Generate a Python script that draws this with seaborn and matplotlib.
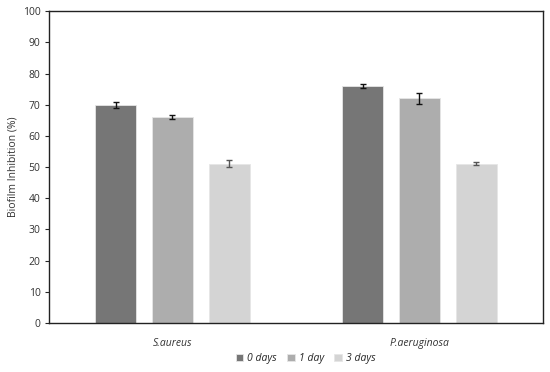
import matplotlib
matplotlib.use("Agg")
import matplotlib.pyplot as plt
import pandas as pd
import seaborn as sns

species = ["S.aureus", "P.aeruginosa"]
days = ["0 days", "1 day", "3 days"]
inhibition = {
    "0 days": [70, 76],
    "1 day": [66, 72],
    "3 days": [51, 51],
}
errors = {
    "0 days": [1.0, 0.5],
    "1 day": [0.7, 1.8],
    "3 days": [1.1, 0.5],
}
colors = ["#767676", "#adadad", "#d4d4d4"]
err_colors = ["#111111", "#111111", "#555555"]

rows = []
for d in days:
    for s, v, e in zip(species, inhibition[d], errors[d]):
        rows.append({"species": s, "day": d, "value": v, "err": e})
data = pd.DataFrame(rows)

sns.set_style("white")
plt.rcParams["font.family"] = ["Open Sans", "DejaVu Sans"]

fig, ax = plt.subplots(figsize=(5.5, 3.72), dpi=100)
fig.subplots_adjust(left=0.089, right=0.987, top=0.970, bottom=0.132)

sns.barplot(data=data, x="species", y="value", hue="day", order=species,
            hue_order=days, palette=colors, width=0.69, gap=0.28,
            saturation=1, errorbar=None, ax=ax, legend=True,
            edgecolor="#e6e6e6", linewidth=0.6)

# error bars, one per bar, placed on the drawn bar centres
for i, d in enumerate(days):
    bars = ax.containers[i]
    xs = [b.get_x() + b.get_width() / 2 for b in bars]
    ax.errorbar(xs, inhibition[d], yerr=errors[d], fmt="none",
                ecolor=err_colors[i], elinewidth=1.0, capsize=2.5, capthick=1.0)

ax.set_xlim(-0.5, 1.5)
ax.set_ylim(0, 100)
ax.set_yticks(range(0, 101, 10))
ax.set_xlabel("")
ax.set_ylabel("Biofilm Inhibition (%)", fontsize=7.5, color="#333333", labelpad=3)
ax.tick_params(axis="y", labelsize=7.5, labelcolor="#333333", length=3,
               width=0.8, direction="out", left=True, pad=3)
ax.tick_params(axis="x", labelsize=7.5, labelcolor="#333333", length=0, pad=11)
for lab in ax.get_xticklabels():
    lab.set_fontstyle("italic")
for sp in ax.spines.values():
    sp.set_visible(True)
    sp.set_color("#222222")
    sp.set_linewidth(1.0)

handles, labels = ax.get_legend_handles_labels()
ax.legend(handles, labels, loc="center", bbox_to_anchor=(0.52, -0.115),
          ncol=3, frameon=False, handlelength=0.7,
          handleheight=0.7, handletextpad=0.4, columnspacing=1.0,
          prop={"style": "italic", "size": 7.5})

fig.savefig("out.png", dpi=100)
